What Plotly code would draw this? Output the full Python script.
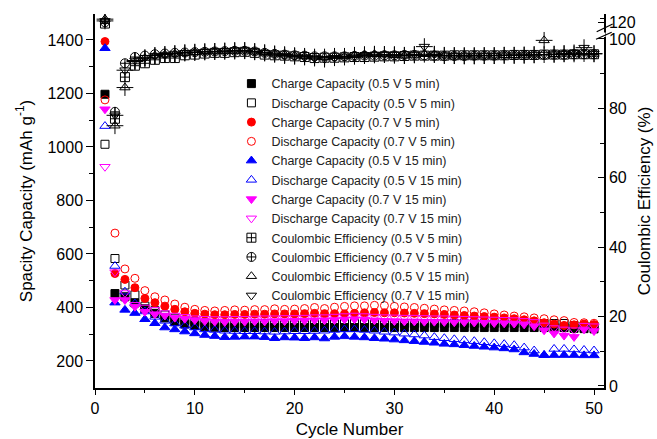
import plotly.graph_objects as go

cycles = list(range(1, 51))

# Capacity (mAh g-1)
charge_05v_5min = [1197, 452, 440, 417, 395, 378, 361, 347, 338, 333,
                   328, 326, 325, 325, 325, 325, 325, 325, 325, 325,
                   325, 325, 325, 325, 325, 325, 325, 325, 325, 325,
                   325, 325, 325, 325, 325, 325, 325, 325, 325, 325,
                   325, 325, 325, 325, 325, 325, 325, 322, 321, 320]
discharge_05v_5min = [1010, 583, 484, 447, 405, 388, 372, 360, 352, 347,
                      342, 340, 339, 339, 339, 339, 340, 340, 340, 340,
                      340, 340, 340, 340, 340, 340, 340, 340, 340, 340,
                      340, 340, 340, 340, 340, 340, 340, 340, 340, 340,
                      340, 340, 340, 340, 340, 340, 340, 332, 331, 330]
charge_07v_5min = [1394, 527, 505, 474, 434, 418, 405, 393, 384, 378,
                   375, 373, 373, 374, 374, 375, 375, 376, 376, 376,
                   377, 378, 377, 377, 376, 378, 380, 381, 380, 380,
                   379, 378, 377, 376, 374, 372, 370, 368, 366, 364,
                   361, 358, 354, 350, 343, 338, 333, 335, 338, 336]
discharge_07v_5min = [1176, 678, 544, 509, 463, 440, 428, 413, 401, 393,
                      389, 387, 389, 391, 390, 392, 392, 395, 393, 394,
                      396, 400, 396, 401, 404, 406, 406, 408, 407, 404,
                      402, 400, 397, 394, 391, 389, 387, 384, 380, 376,
                      372, 368, 365, 361, 358, 354, 351, 344, 343, 341]
charge_05v_15min = [1369, 418, 391, 379, 356, 341, 325, 318, 310, 303,
                    297, 293, 289, 290, 291, 291, 289, 285, 288, 287,
                    285, 288, 284, 290, 292, 290, 288, 285, 283, 280,
                    277, 274, 271, 268, 264, 262, 259, 256, 253, 250,
                    247, 243, 232, 226, 222, 222, 222, 222, 221, 221]
discharge_05v_15min = [1078, 555, 459, 415, 385, 365, 350, 340, 332, 325,
                       318, 316, 313, 312, 311, 311, 310, 309, 310, 311,
                       311, 312, 313, 316, 318, 318, 316, 313, 309, 306,
                       302, 299, 295, 289, 285, 281, 277, 274, 270, 266,
                       263, 259, 250, 239, 222, 245, 245, 243, 241, 239]
charge_07v_15min = [1141, 428, 428, 403, 384, 375, 370, 362, 358, 353,
                    349, 347, 346, 347, 347, 348, 348, 349, 349, 350,
                    350, 352, 352, 353, 355, 356, 355, 352, 350, 349,
                    348, 348, 347, 347, 346, 345, 345, 344, 343, 342,
                    341, 340, 337, 330, 315, 303, 295, 290, 318, 312]
discharge_07v_15min = [926, 532, 454, 410, 400, 391, 379, 370, 365, 360,
                       358, 357, 357, 358, 358, 359, 360, 360, 361, 361,
                       362, 364, 364, 366, 368, 370, 368, 366, 364, 363,
                       362, 362, 361, 360, 360, 359, 358, 357, 356, 355,
                       354, 353, 350, 346, 333, 323, 318, 315, 332, 330]

# Coulombic efficiency (%)
ce_05v_5min = [119, 77, 89, 92.3, 93, 94, 94.5, 94.5, 95.3, 95.5,
               95.8, 96, 96, 96.2, 96.3, 96, 95.5, 95.3, 95.2, 95,
               94.8, 94.5, 94.6, 94.6, 94.7, 94.8, 94.8, 94.9, 95, 95,
               95.1, 95.2, 95.2, 95.2, 95.2, 95.3, 95.3, 95.3, 95.3, 95.3,
               95.3, 95.4, 95.4, 95.4, 95.5, 95.5, 95.5, 95.6, 95.6, 95.6]
ce_07v_5min = [120.5, 79, 93, 94.8, 95.2, 95.6, 95.8, 96, 96.1, 96.2,
               96.3, 96.4, 96.5, 96.6, 96.6, 96.4, 96, 95.7, 95.5, 95.3,
               95.2, 95, 95, 95, 95, 95.1, 95.2, 95.2, 95.3, 95.3,
               95.4, 95.4, 95.3, 95.2, 95.1, 95.1, 95.1, 95.2, 95.2, 95.2,
               95.3, 95.3, 95.3, 95.4, 95.4, 95.5, 95.5, 95.6, 95.6, 95.6]
ce_05v_15min = [124, 75, 86, 93.5, 94.5, 95.2, 95.5, 95.7, 96, 96.2,
                96.3, 96.4, 96.5, 96.5, 96.6, 96.3, 96, 95.7, 95.5, 95.2,
                95, 94.8, 94.8, 95, 95, 95.3, 95.5, 95.6, 95.5, 95.3,
                95.2, 95.4, 95.6, 95.5, 95.2, 95.2, 95.2, 95.2, 95.2, 95.2,
                95.3, 95.3, 95.4, 95.5, 99.6, 95.6, 95.7, 95.7, 95.8, 95.7]
ce_07v_15min = [122, 78, 91, 93.8, 94.6, 95.2, 95.5, 95.8, 96, 96.1,
                96.3, 96.4, 96.5, 96.7, 96.7, 96.4, 96, 95.6, 95.2, 95,
                94.8, 94.5, 94.2, 94.6, 94.8, 95, 95.2, 95.4, 95.5, 95.5,
                95.3, 95.5, 97.8, 95.6, 95.3, 95.2, 95.1, 95.1, 95.2, 95.2,
                95.3, 95.3, 95.3, 95.4, 95.5, 95.6, 95.8, 96, 97.5, 95.8]

# Broken right axis: 0-100 linear, then a compressed segment around 120
BREAK_AT = 100.5
UPPER_REF = 120
UPPER_POS = 104.7
UPPER_SCALE = 0.254


def ce_axis(v):
    if v <= BREAK_AT:
        return v
    return UPPER_POS + (v - UPPER_REF) * UPPER_SCALE


right_major = [0, 20, 40, 60, 80, 100, 120]
right_minor = [10, 30, 50, 70, 90, 125]

FONT = "Liberation Sans, Arial, sans-serif"

fig = go.Figure()

cap_series = [
    ("Charge Capacity (0.5 V 5 min)", charge_05v_5min, "square", "black"),
    ("Discharge Capacity (0.5 V 5 min)", discharge_05v_5min, "square-open", "black"),
    ("Charge Capacity (0.7 V 5 min)", charge_07v_5min, "circle", "#ff0000"),
    ("Discharge Capacity (0.7 V 5 min)", discharge_07v_5min, "circle-open", "#ff0000"),
    ("Charge Capacity (0.5 V 15 min)", charge_05v_15min, "triangle-up", "#0000ff"),
    ("Discharge Capacity (0.5 V 15 min)", discharge_05v_15min, "triangle-up-open", "#0000ff"),
    ("Charge Capacity (0.7 V 15 min)", charge_07v_15min, "triangle-down", "#ff00ff"),
    ("Discharge Capacity (0.7 V 15 min)", discharge_07v_15min, "triangle-down-open", "#ff00ff"),
]
for name, vals, sym, col in cap_series:
    size = 9 if "triangle" in sym else 8
    fig.add_trace(go.Scatter(
        x=cycles, y=vals, mode="markers", name=name,
        legend="legend",
        marker=dict(symbol=sym, size=size, color=col, line=dict(color=col, width=1)),
        xaxis="x", yaxis="y"))

ce_series = [
    ("Coulombic Efficiency (0.5 V 5 min)", ce_05v_5min, "square-cross-open", False),
    ("Coulombic Efficiency (0.7 V 5 min)", ce_07v_5min, "circle-cross-open", False),
    ("Coulombic Efficiency (0.5 V 15 min)", ce_05v_15min, "triangle-up-open", True),
    ("Coulombic Efficiency (0.7 V 15 min)", ce_07v_15min, "triangle-down-open", True),
]
for name, vals, sym, crossed in ce_series:
    yv = [ce_axis(v) for v in vals]
    fig.add_trace(go.Scatter(
        x=cycles, y=yv, mode="markers", name=name, legend="legend2",
        customdata=vals, hovertemplate="%{customdata}%<extra></extra>",
        marker=dict(symbol=sym, size=9, color="black", line=dict(color="black", width=1)),
        xaxis="x", yaxis="y2"))
    if crossed:
        fig.add_trace(go.Scatter(
            x=cycles, y=yv, mode="markers", showlegend=False, legend="legend2",
            hoverinfo="skip",
            marker=dict(symbol="cross-thin-open", size=12, color="black",
                        line=dict(color="black", width=1)),
            xaxis="x", yaxis="y2"))

axis_common = dict(showgrid=False, zeroline=False, showline=True, linecolor="black",
                   linewidth=1.5, tickcolor="black", tickwidth=1.2, automargin=False,
                   tickfont=dict(family=FONT, size=16, color="black"))

legend_common = dict(xanchor="left", yanchor="top", bgcolor="rgba(0,0,0,0)",
                     borderwidth=0, font=dict(family=FONT, size=12.5, color="#222"))

fig.update_layout(
    width=657, height=439,
    margin=dict(l=95, r=53, t=14, b=51),
    paper_bgcolor="white", plot_bgcolor="white",
    font=dict(family=FONT, color="black"),
    showlegend=True,
    legend=dict(x=0.268, y=0.853, **legend_common),
    legend2=dict(x=0.268, y=0.441, **legend_common),
    xaxis=dict(range=[0, 51], tickvals=[0, 10, 20, 30, 40, 50], ticks="outside", ticklen=5,
               minor=dict(tickvals=[5, 15, 25, 35, 45], ticks="outside", ticklen=3,
                          tickcolor="black", tickwidth=1.2),
               title=dict(text="Cycle Number", font=dict(family=FONT, size=17), standoff=13),
               **axis_common),
    xaxis2=dict(range=[0, 51], overlaying="x", side="top", ticks="inside", ticklen=4,
                tickvals=[5, 10, 15, 20, 25, 30, 35, 40, 45, 50], showticklabels=False,
                **axis_common),
    yaxis=dict(range=[99, 1497], tickvals=[200, 400, 600, 800, 1000, 1200, 1400],
               ticks="outside", ticklen=7,
               minor=dict(tickvals=[300, 500, 700, 900, 1100, 1300], ticks="outside",
                          ticklen=4, tickcolor="black", tickwidth=1.2),
               title=dict(text="Spacity Capacity (mAh g<sup>-1</sup>)",
                          font=dict(family=FONT, size=17), standoff=11),
               **axis_common),
    yaxis2=dict(range=[-0.6, 107.2], overlaying="y", side="right",
                tickvals=[ce_axis(v) for v in right_major],
                ticktext=[str(v) for v in right_major],
                ticks="inside", ticklen=6,
                minor=dict(tickvals=[ce_axis(v) for v in right_minor], ticks="inside",
                           ticklen=4, tickcolor="black", tickwidth=1.2),
                title=dict(text="Coulombic Efficiency (%)",
                           font=dict(family=FONT, size=17), standoff=3),
                **axis_common),
)


# axis-break marks on the right axis
def px(x):
    return (x - 95) / 509


def py(y):
    return (388 - y) / 374


fig.add_shape(type="line", xref="paper", yref="paper", x0=1, x1=1,
              y0=py(32.5), y1=py(37), line=dict(color="white", width=3), layer="above")
for (xa, ya, xb, yb) in [(596.7, 31.7, 612.7, 24.0), (596.0, 39.3, 611.7, 32.3)]:
    fig.add_shape(type="line", xref="paper", yref="paper",
                  x0=px(xa), y0=py(ya), x1=px(xb), y1=py(yb),
                  line=dict(color="black", width=1.2), layer="above")

fig.write_html("out.html")
